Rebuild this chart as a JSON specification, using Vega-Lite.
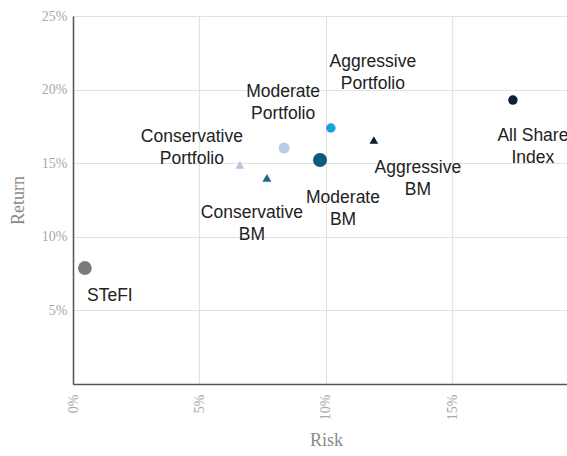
{
  "$schema": "https://vega.github.io/schema/vega-lite/v6.json",
  "autosize": "none",
  "width": 494,
  "height": 368,
  "padding": {"left": 73, "top": 16, "right": 0, "bottom": 72},
  "background": "white",
  "config": {
    "view": {"stroke": null},
    "axis": {
      "labelFont": "Liberation Serif",
      "titleFont": "Liberation Serif",
      "labelColor": "#a8a8a8",
      "titleColor": "#8a8a8a",
      "labelFontSize": 14,
      "titleFontSize": 18,
      "titleFontWeight": "normal",
      "gridColor": "#e2e2e2",
      "gridWidth": 1.2,
      "domainColor": "#555555",
      "domainWidth": 1.5,
      "ticks": false
    }
  },
  "data": {
    "values": [
      {"name": "STeFI", "label": "STeFI", "risk": 0.0047, "ret": 0.0788},
      {"name": "Conservative Portfolio", "label": "Conservative\nPortfolio", "risk": 0.066, "ret": 0.1488},
      {"name": "Conservative BM", "label": "Conservative\nBM", "risk": 0.0767, "ret": 0.140},
      {"name": "Moderate Portfolio", "label": "Moderate\nPortfolio", "risk": 0.0835, "ret": 0.1603},
      {"name": "Moderate BM", "label": "Moderate\nBM", "risk": 0.0977, "ret": 0.1522},
      {"name": "Aggressive Portfolio", "label": "Aggressive\nPortfolio", "risk": 0.102, "ret": 0.1739},
      {"name": "Aggressive BM", "label": "Aggressive\nBM", "risk": 0.119, "ret": 0.1658},
      {"name": "All Share Index", "label": "All Share\nIndex", "risk": 0.174, "ret": 0.1929}
    ]
  },
  "encoding": {
    "x": {
      "field": "risk", "type": "quantitative",
      "scale": {"domain": [0, 0.1954], "nice": false, "zero": false},
      "axis": {"title": "Risk", "format": ".0%", "values": [0, 0.05, 0.1, 0.15], "labelAngle": -90, "labelAlign": "right", "labelBaseline": "middle", "labelPadding": 10, "titlePadding": 12, "titleX": 253}
    },
    "y": {
      "field": "ret", "type": "quantitative",
      "scale": {"domain": [0, 0.25], "nice": false},
      "axis": {"title": "Return", "format": ".0%", "values": [0.05, 0.1, 0.15, 0.2, 0.25], "labelPadding": 6, "titlePadding": 14}
    }
  },
  "layer": [
    {
      "mark": {"type": "point", "filled": true, "opacity": 1},
      "encoding": {
        "color": {
          "field": "name", "type": "nominal", "legend": null,
          "scale": {
            "domain": ["STeFI", "Conservative Portfolio", "Conservative BM", "Moderate Portfolio", "Moderate BM", "Aggressive Portfolio", "Aggressive BM", "All Share Index"],
            "range": ["#7a7a7a", "#b4c8e2", "#1d6b86", "#b8cde6", "#0e5a78", "#1a9fe0", "#0c1e38", "#0f1f38"]
          }
        },
        "shape": {
          "field": "name", "type": "nominal", "legend": null,
          "scale": {
            "domain": ["STeFI", "Conservative Portfolio", "Conservative BM", "Moderate Portfolio", "Moderate BM", "Aggressive Portfolio", "Aggressive BM", "All Share Index"],
            "range": ["circle", "triangle-up", "triangle-up", "circle", "circle", "circle", "triangle-up", "circle"]
          }
        },
        "size": {
          "field": "name", "type": "nominal", "legend": null,
          "scale": {
            "type": "ordinal",
            "domain": ["STeFI", "Conservative Portfolio", "Conservative BM", "Moderate Portfolio", "Moderate BM", "Aggressive Portfolio", "Aggressive BM", "All Share Index"],
            "range": [190, 80, 80, 121, 196, 90, 75, 90]
          }
        }
      }
    },
    {"transform": [{"filter": "datum.name === 'STeFI'"}], "mark": {"type": "text", "font": "Liberation Sans", "fontSize": 17.5, "color": "#222222", "lineBreak": "\n", "lineHeight": 22, "align": "center", "baseline": "middle", "dx": 25, "dy": 28}, "encoding": {"text": {"field": "label"}}},
    {"transform": [{"filter": "datum.name === 'Conservative Portfolio'"}], "mark": {"type": "text", "font": "Liberation Sans", "fontSize": 17.5, "color": "#222222", "lineBreak": "\n", "lineHeight": 22, "align": "center", "baseline": "middle", "dx": -48, "dy": -28}, "encoding": {"text": {"field": "label"}}},
    {"transform": [{"filter": "datum.name === 'Conservative BM'"}], "mark": {"type": "text", "font": "Liberation Sans", "fontSize": 17.5, "color": "#222222", "lineBreak": "\n", "lineHeight": 22, "align": "center", "baseline": "middle", "dx": -15, "dy": 35}, "encoding": {"text": {"field": "label"}}},
    {"transform": [{"filter": "datum.name === 'Moderate Portfolio'"}], "mark": {"type": "text", "font": "Liberation Sans", "fontSize": 17.5, "color": "#222222", "lineBreak": "\n", "lineHeight": 22, "align": "center", "baseline": "middle", "dx": -1, "dy": -56}, "encoding": {"text": {"field": "label"}}},
    {"transform": [{"filter": "datum.name === 'Moderate BM'"}], "mark": {"type": "text", "font": "Liberation Sans", "fontSize": 17.5, "color": "#222222", "lineBreak": "\n", "lineHeight": 22, "align": "center", "baseline": "middle", "dx": 23, "dy": 38}, "encoding": {"text": {"field": "label"}}},
    {"transform": [{"filter": "datum.name === 'Aggressive Portfolio'"}], "mark": {"type": "text", "font": "Liberation Sans", "fontSize": 17.5, "color": "#222222", "lineBreak": "\n", "lineHeight": 22, "align": "center", "baseline": "middle", "dx": 42, "dy": -66}, "encoding": {"text": {"field": "label"}}},
    {"transform": [{"filter": "datum.name === 'Aggressive BM'"}], "mark": {"type": "text", "font": "Liberation Sans", "fontSize": 17.5, "color": "#222222", "lineBreak": "\n", "lineHeight": 22, "align": "center", "baseline": "middle", "dx": 44, "dy": 28}, "encoding": {"text": {"field": "label"}}},
    {"transform": [{"filter": "datum.name === 'All Share Index'"}], "mark": {"type": "text", "font": "Liberation Sans", "fontSize": 17.5, "color": "#222222", "lineBreak": "\n", "lineHeight": 22, "align": "center", "baseline": "middle", "dx": 20, "dy": 36}, "encoding": {"text": {"field": "label"}}}
  ]
}
